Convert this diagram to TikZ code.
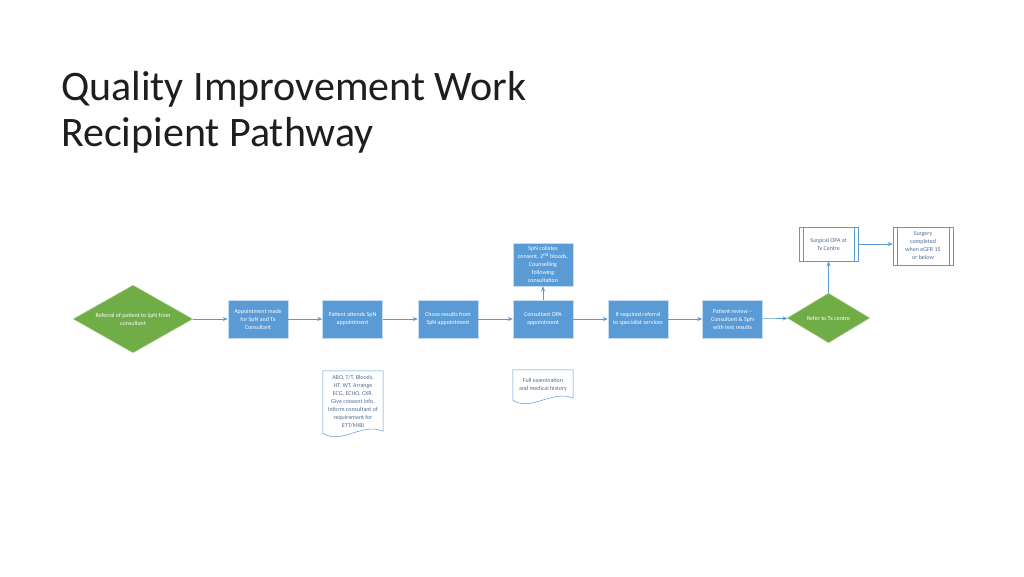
\documentclass[tikz,border=0pt]{standalone}
\usepackage{fontspec}
\setmainfont{Carlito}
\usetikzlibrary{shapes.geometric,arrows.meta,calc}

\definecolor{boxblue}{RGB}{91,155,213}
\definecolor{choicegreen}{RGB}{112,173,71}
\definecolor{notetext}{RGB}{80,110,150}
\definecolor{titlegrey}{RGB}{30,30,30}

\tikzset{
	small/.style={font=\fontsize{6}{8}\selectfont, align=center, inner sep=1},
	box/.style={small, rectangle, fill=boxblue, draw=white!65!boxblue, line width=0.5pt, text=white, minimum width=60, minimum height=38},
	choice/.style={small, diamond, aspect=1.8, fill=choicegreen, draw=white!60!choicegreen, line width=0.5pt, text=white, inner sep=0},
	procbox/.style={small, rectangle, fill=white, draw=boxblue, line width=0.5pt, text=notetext, minimum width=59},
	procline/.style={draw=boxblue, line width=0.5pt},
	note/.style={small, rectangle, text=notetext, minimum width=60},
	noteline/.style={draw=boxblue, line width=0.5pt, fill=white},
	flow/.style={draw=boxblue, line width=0.6pt, -{Stealth[length=5pt,width=4pt]}}
}

\begin{document}
\begin{tikzpicture}[x=1pt, y=-1pt]
		% Page
		\fill[white] (0,0) rectangle (1024,576);
		\useasboundingbox (0,0) rectangle (1024,576);

		% Title
		\node[anchor=north west, inner sep=0, align=left, text=titlegrey, font=\fontsize{42}{46}\selectfont] (title) at (61,71) {Quality Improvement Work\\Recipient Pathway};

		% Main row
		\node[choice, minimum width=120, minimum height=68] (refer) at (133,319) {Referral of patient to SpN from\\consultant};
		\node[box] (made) at (258,319) {Appointment made\\for SpN and Tx\\Consultant};
		\node[box] (attend) at (352.5,319) {Patient attends SpN\\appointment};
		\node[box] (chose) at (448,319) {Chose results from\\SpN appointment};
		\node[box] (opa) at (543,319) {Consultant OPA\\appointment};
		\node[box] (special) at (638,319) {If required referral\\to specialist services};
		\node[box] (review) at (732.5,319) {Patient review --\\Consultant \& SpN\\with test results};
		\node[choice, aspect=1.66, minimum width=83, minimum height=50] (txcentre) at (828.5,318) {Refer to Tx centre};

		% Upper boxes
		\node[box, minimum height=43] (collate) at (543,264.5) {SpN collates\\consent, 2\textsuperscript{nd} bloods,\\Counselling\\following\\consultation};
		\node[procbox, minimum height=34] (surgopa) at (828.5,244) {Surgical OPA at\\Tx Centre};
		\node[procbox, minimum width=60, minimum height=38] (surgery) at (923,246) {Surgery\\completed\\when eGFR 15\\or below};
		\foreach \p in {surgopa,surgery} {
			\draw[procline] ([xshift=4]\p.north west) -- ([xshift=4]\p.south west);
			\draw[procline] ([xshift=-4]\p.north east) -- ([xshift=-4]\p.south east);
		}

		% Notes below
		\node[note, minimum height=62] (tests) at (353,402) {};
		\node[note, minimum height=30] (exam) at (543,385) {};
		\foreach \n in {tests,exam}
			\draw[noteline] (\n.north west) -- (\n.north east) -- ($(\n.south east)+(0,-2)$)
				.. controls ($(\n.south west)!0.65!(\n.south east)+(0,-11)$) and ($(\n.south west)!0.3!(\n.south east)+(0,12)$) .. (\n.south west) -- cycle;
		\node[note] at (tests) {ABO, T/T, Bloods,\\HT, WT. Arrange\\ECG, ECHO, CXR.\\Give consent info.\\Inform consultant of\\requirement for\\ETT/MIBI};
		\node[note] at (exam) {Full examination\\and medical history};

		% Arrows
		\draw[flow] (refer) -- (made);
		\draw[flow] (made) -- (attend);
		\draw[flow] (attend) -- (chose);
		\draw[flow] (chose) -- (opa);
		\draw[flow] (opa) -- (special);
		\draw[flow] (special) -- (review);
		\draw[flow] (review) -- (txcentre);
		\draw[flow] (opa) -- (collate);
		\draw[flow] (txcentre) -- (surgopa);
		\draw[flow] (surgopa.east) -- (surgopa.east -| surgery.west);
	\end{tikzpicture}
\end{document}
